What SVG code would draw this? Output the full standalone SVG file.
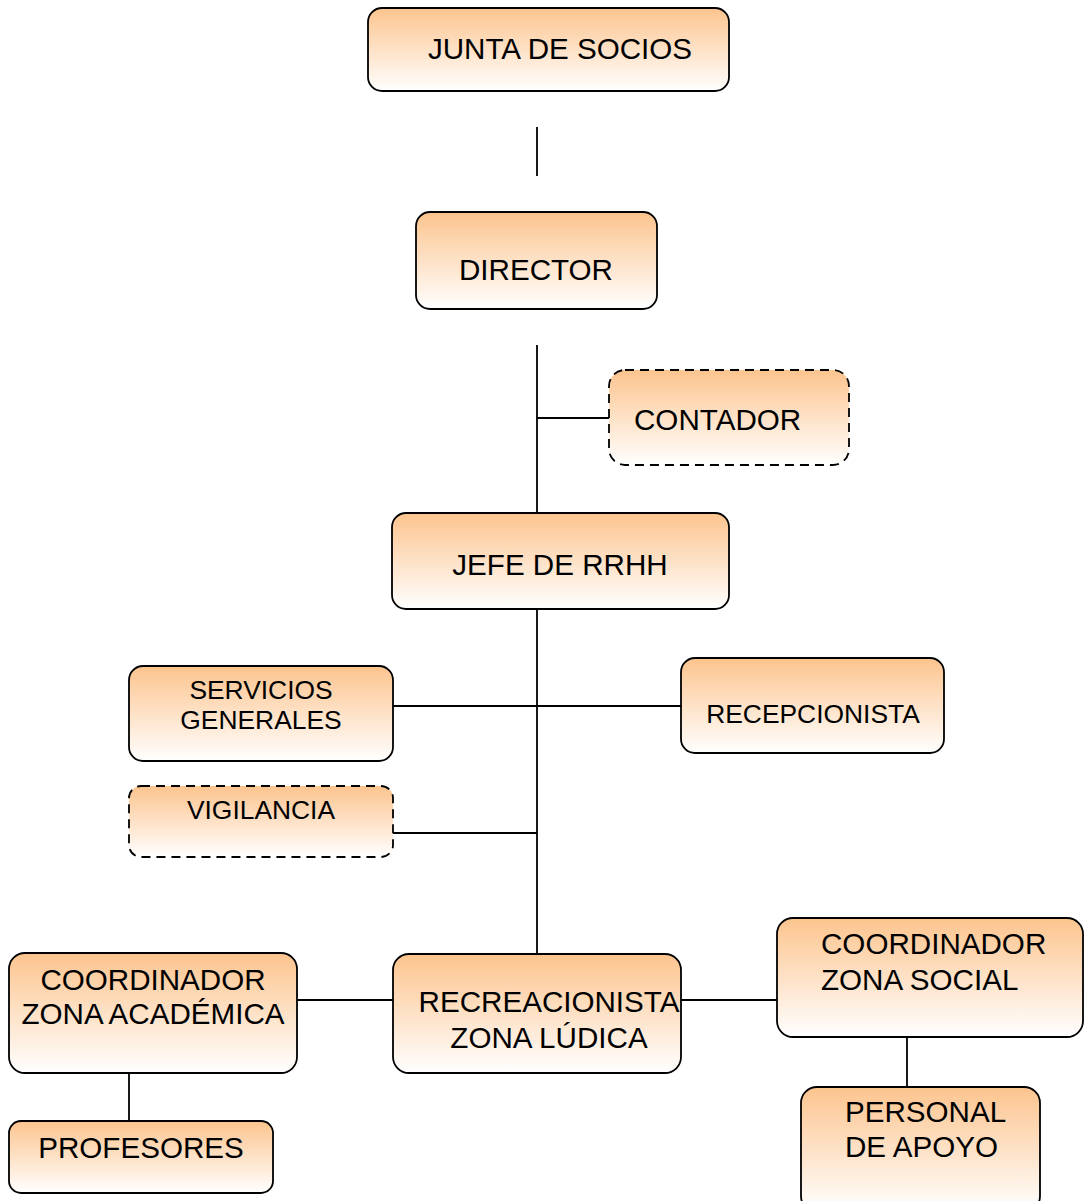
<svg xmlns="http://www.w3.org/2000/svg" width="1084" height="1201" viewBox="0 0 1084 1201">
<defs>
<linearGradient id="g" x1="0" y1="0" x2="0" y2="1">
<stop offset="0" stop-color="#FCC48E"/>
<stop offset="1" stop-color="#FFFFFF"/>
</linearGradient>
<style>
.box{fill:url(#g);stroke:#000;stroke-width:1.8}
.dash{stroke-dasharray:9 6}
.t{font-family:"Liberation Sans",Arial,sans-serif;font-size:29.6px;fill:#000}
.s{font-size:26.4px}
.c{text-anchor:middle}
.ln{stroke:#000;stroke-width:1.8;fill:none}
</style>
</defs>
<rect width="1084" height="1201" fill="#fff"/>
<g id="connectors">
<line class="ln" x1="537" y1="127" x2="537" y2="176"/>
<line class="ln" x1="537" y1="345" x2="537" y2="513"/>
<line class="ln" x1="537" y1="418" x2="609" y2="418"/>
<line class="ln" x1="537" y1="609" x2="537" y2="954"/>
<line class="ln" x1="393" y1="706" x2="681" y2="706"/>
<line class="ln" x1="393" y1="833" x2="537" y2="833"/>
<line class="ln" x1="297" y1="1000" x2="393" y2="1000"/>
<line class="ln" x1="681" y1="1000" x2="777" y2="1000"/>
<line class="ln" x1="129" y1="1073" x2="129" y2="1121"/>
<line class="ln" x1="907" y1="1037" x2="907" y2="1087"/>
</g>
<g id="junta">
<rect class="box" x="368" y="8" width="361" height="83" rx="14"/>
<text class="t c" x="560" y="59">JUNTA DE SOCIOS</text>
</g>
<g id="director">
<rect class="box" x="416" y="212" width="241" height="97" rx="14"/>
<text class="t c" x="536" y="280">DIRECTOR</text>
</g>
<g id="contador">
<rect class="box dash" x="609" y="370" width="240" height="95" rx="16"/>
<text class="t" x="634" y="430">CONTADOR</text>
</g>
<g id="jefe">
<rect class="box" x="392" y="513" width="337" height="96" rx="14"/>
<text class="t c" x="560" y="575">JEFE DE RRHH</text>
</g>
<g id="servicios">
<rect class="box" x="129" y="666" width="264" height="95" rx="14"/>
<text class="t s c" x="261" y="699">SERVICIOS</text>
<text class="t s c" x="261" y="729">GENERALES</text>
</g>
<g id="recepcionista">
<rect class="box" x="681" y="658" width="263" height="95" rx="14"/>
<text class="t s c" x="813" y="723">RECEPCIONISTA</text>
</g>
<g id="vigilancia">
<rect class="box dash" x="129" y="786" width="264" height="71" rx="12"/>
<text class="t s c" x="261" y="819">VIGILANCIA</text>
</g>
<g id="recreacionista">
<rect class="box" x="393" y="954" width="288" height="119" rx="16"/>
<text class="t c" x="549" y="1012">RECREACIONISTA</text>
<text class="t c" x="549" y="1048">ZONA LÚDICA</text>
</g>
<g id="coord-academica">
<rect class="box" x="9" y="953" width="288" height="120" rx="16"/>
<text class="t c" x="153" y="990">COORDINADOR</text>
<text class="t c" x="153" y="1024">ZONA ACADÉMICA</text>
</g>
<g id="profesores">
<rect class="box" x="9" y="1121" width="264" height="72" rx="12"/>
<text class="t c" x="141" y="1158">PROFESORES</text>
</g>
<g id="coord-social">
<rect class="box" x="777" y="918" width="306" height="119" rx="16"/>
<text class="t" x="821" y="954">COORDINADOR</text>
<text class="t" x="821" y="990">ZONA SOCIAL</text>
</g>
<g id="personal">
<rect class="box" x="801" y="1087" width="239" height="125" rx="16"/>
<text class="t" x="845" y="1122">PERSONAL</text>
<text class="t" x="845" y="1157">DE APOYO</text>
</g>
</svg>
